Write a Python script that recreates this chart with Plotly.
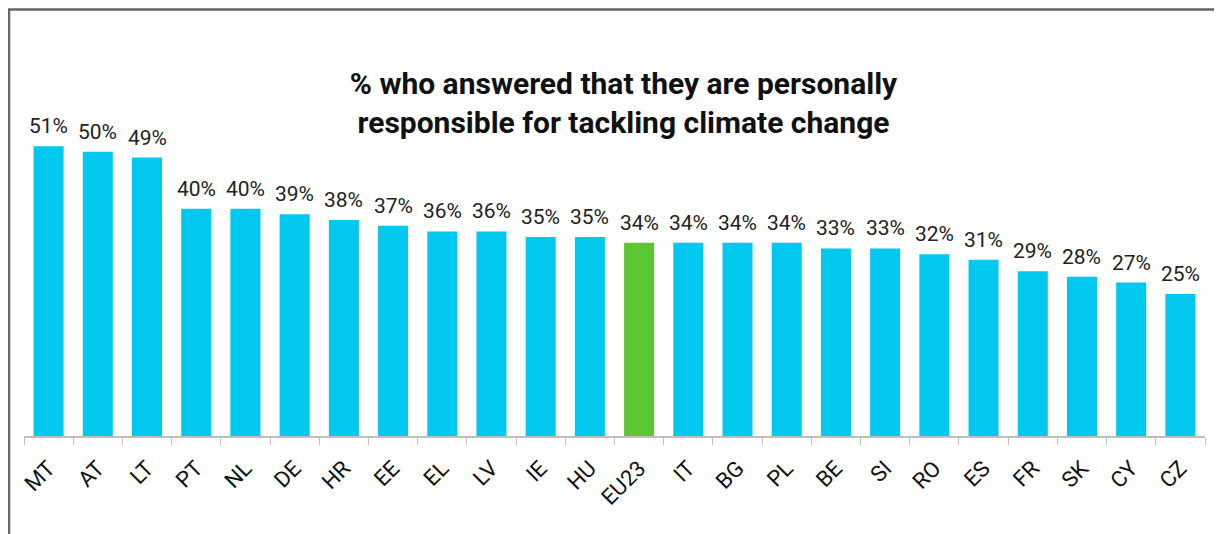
import plotly.graph_objects as go

countries = ["MT", "AT", "LT", "PT", "NL", "DE", "HR", "EE", "EL", "LV", "IE", "HU",
             "EU23", "IT", "BG", "PL", "BE", "SI", "RO", "ES", "FR", "SK", "CY", "CZ"]
values = [51, 50, 49, 40, 40, 39, 38, 37, 36, 36, 35, 35,
          34, 34, 34, 34, 33, 33, 32, 31, 29, 28, 27, 25]

cyan = "#00C8EE"
green = "#5CC532"
colors = [green if c == "EU23" else cyan for c in countries]

fig = go.Figure()
fig.add_trace(
    go.Bar(x=countries, y=values, marker=dict(color=colors, line=dict(width=0)),
           width=0.61, showlegend=False, hoverinfo="x+y")
)

# value labels above the bars
for c, v in zip(countries, values):
    fig.add_annotation(x=c, y=v, text=f"{v}%", showarrow=False,
                       yanchor="bottom", yshift=6,
                       font=dict(family="Roboto", size=21, color="#222222"))

# chart frame (cut off at right and bottom as in the source)
fig.add_shape(type="rect", xref="paper", yref="paper",
              x0=-0.0127, x1=2, y0=-2, y1=1.2507,
              line=dict(color="#666666", width=2.5), layer="above")

# page has an 8px body margin, so the figure is a bit smaller than the window
fig.update_layout(
    width=1214, height=526,
    margin=dict(l=16, r=17, t=87, b=98),
    paper_bgcolor="white", plot_bgcolor="white",
    title=dict(text="<b>% who answered that they are personally<br>responsible for tackling climate change</b>",
               x=0.507, xanchor="center", y=0.836, yanchor="middle",
               font=dict(family="Roboto", size=30, color="#111111")),
    font=dict(family="Roboto"),
    bargap=0.39,
)
fig.update_xaxes(
    showline=True, linecolor="#BFBFBF", linewidth=1.5,
    ticks="outside", tickson="boundaries", ticklen=7, tickcolor="#BFBFBF",
    tickangle=-45, tickfont=dict(family="Roboto", size=22, color="#111111"),
    ticklabelstandoff=9,
    showgrid=False, automargin=False,
)
fig.update_yaxes(range=[0, 60], visible=False, showgrid=False)

fig.write_html("out.html")
